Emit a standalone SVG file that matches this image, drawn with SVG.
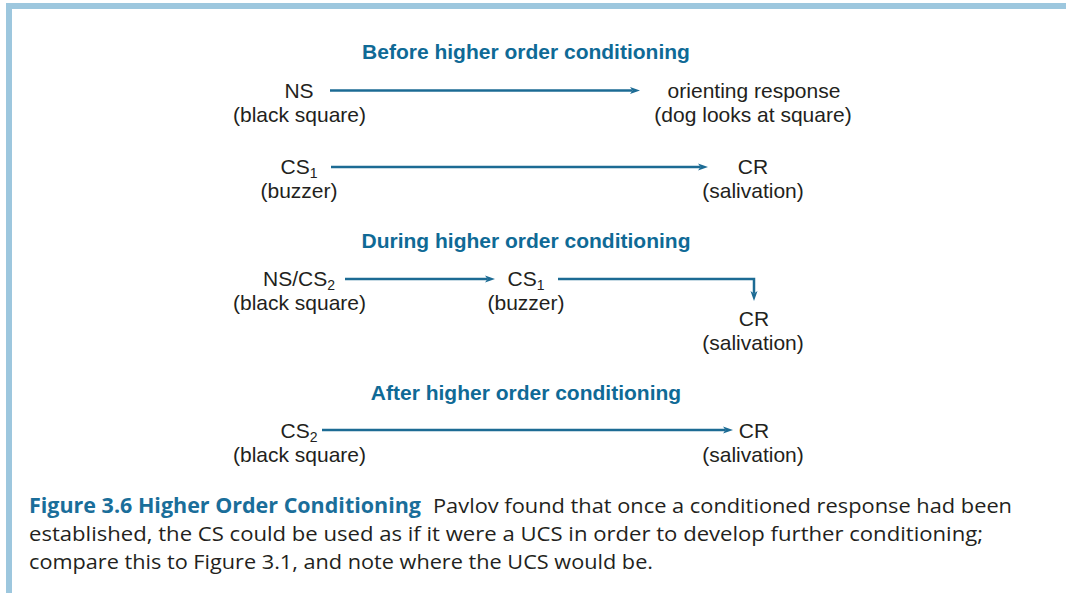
<svg xmlns="http://www.w3.org/2000/svg" width="1066" height="593" viewBox="0 0 1066 593">
<style>
.t{font-family:"Liberation Sans",Arial,sans-serif;font-size:21px;fill:#231f20;text-anchor:middle}
.s{font-size:14px}
.h{font-family:"Liberation Sans",Arial,sans-serif;font-size:21px;font-weight:bold;fill:#0f6a96;text-anchor:middle}
.c{font-family:"Open Sans","Noto Sans",sans-serif;font-size:20.5px;fill:#231f20}
.cb{font-weight:bold;fill:#1a6e9a}
.a{stroke:#1c6b94;stroke-width:2.5;fill:none;marker-end:url(#ah)}
</style>
<defs>
<marker id="ah" viewBox="0 -4 10 8" refX="2.5" refY="0" markerWidth="10" markerHeight="8" markerUnits="userSpaceOnUse" orient="auto">
<path d="M0,-3.5 L10,0 L0,3.5 L2.5,0 Z" fill="#1c6b94"/>
</marker>
</defs>
<rect x="0" y="0" width="1066" height="593" fill="#ffffff"/>
<g id="frame" fill="#9dc7de">
<rect x="6" y="3" width="1060" height="6"/>
<rect x="6" y="3" width="6" height="590"/>
</g>
<g id="titles">
<text class="h" x="526" y="59">Before higher order conditioning</text>
<text class="h" x="526" y="248">During higher order conditioning</text>
<text class="h" x="526" y="400">After higher order conditioning</text>
</g>
<g id="connectors">
<line class="a" x1="330" y1="90.5" x2="632.5" y2="90.5"/>
<line class="a" x1="331" y1="167" x2="700.5" y2="167"/>
<line class="a" x1="345" y1="279" x2="487.5" y2="279"/>
<path class="a" d="M558,279 H754 V293.5"/>
<line class="a" x1="322" y1="430" x2="725.5" y2="430"/>
</g>
<g id="ns1"><text class="t" x="299" y="98">NS</text><text class="t" x="299.5" y="122">(black square)</text></g>
<g id="or1"><text class="t" x="754" y="98">orienting response</text><text class="t" x="753" y="122">(dog looks at square)</text></g>
<g id="cs1a"><text class="t" x="299" y="174">CS<tspan class="s" dy="4">1</tspan></text><text class="t" x="299" y="198">(buzzer)</text></g>
<g id="cr1"><text class="t" x="753" y="174">CR</text><text class="t" x="753" y="198">(salivation)</text></g>
<g id="ns2"><text class="t" x="299" y="286">NS/CS<tspan class="s" dy="4">2</tspan></text><text class="t" x="299.5" y="310">(black square)</text></g>
<g id="cs1b"><text class="t" x="526" y="286">CS<tspan class="s" dy="4">1</tspan></text><text class="t" x="526" y="310">(buzzer)</text></g>
<g id="cr2"><text class="t" x="754" y="326">CR</text><text class="t" x="753" y="350">(salivation)</text></g>
<g id="cs2"><text class="t" x="299" y="438">CS<tspan class="s" dy="4">2</tspan></text><text class="t" x="299.5" y="462">(black square)</text></g>
<g id="cr3"><text class="t" x="754" y="438">CR</text><text class="t" x="753" y="462">(salivation)</text></g>
<g id="caption">
<text class="c cb" x="29" y="513" textLength="392" lengthAdjust="spacingAndGlyphs">Figure 3.6 Higher Order Conditioning</text>
<text class="c" x="433" y="513" textLength="579" lengthAdjust="spacingAndGlyphs">Pavlov found that once a conditioned response had been</text>
<text class="c" x="29" y="541" textLength="954" lengthAdjust="spacingAndGlyphs">established, the CS could be used as if it were a UCS in order to develop further conditioning;</text>
<text class="c" x="29" y="569" textLength="624" lengthAdjust="spacingAndGlyphs">compare this to Figure 3.1, and note where the UCS would be.</text>
</g>
</svg>
